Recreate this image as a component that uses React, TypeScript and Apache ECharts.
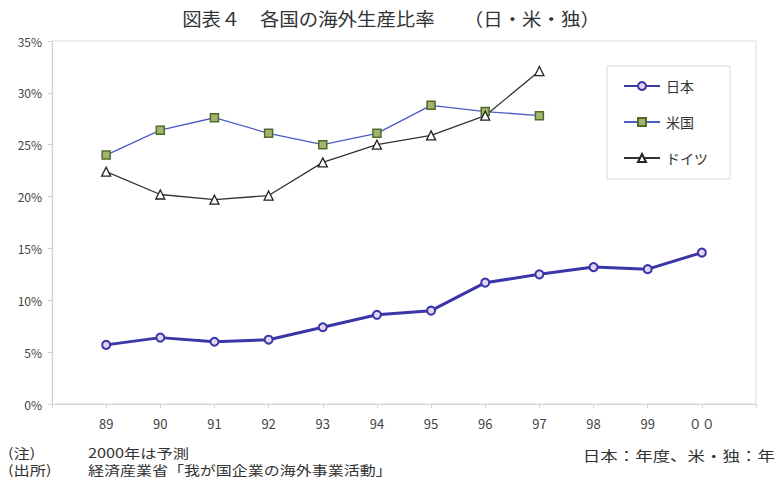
import React, { useEffect, useRef } from "react";
import * as echarts from "echarts";

const years = ["89", "90", "91", "92", "93", "94", "95", "96", "97", "98", "99", "００"];
const japan = [5.7, 6.4, 6.0, 6.2, 7.4, 8.6, 9.0, 11.7, 12.5, 13.2, 13.0, 14.6];
const usa = [24.0, 26.4, 27.6, 26.1, 25.0, 26.1, 28.8, 28.2, 27.8];
const germany = [22.4, 20.2, 19.7, 20.1, 23.3, 25.0, 25.9, 27.8, 32.1];
const yTicks = [0, 5, 10, 15, 20, 25, 30, 35];

const FONT = '"Noto Sans CJK JP", "Noto Sans", sans-serif';

// pad the axis with an empty slot on each side so points sit inside the frame
const axisData = ["", ...years, ""];
const pad = (arr: number[]) => {
  const out: (number | null)[] = [null, ...arr];
  while (out.length < axisData.length) out.push(null);
  return out;
};

// wide-set text, as in the printed figure
const wideText = (
  text: string,
  x: number,
  y: number,
  size: number,
  sx: number,
  align: "left" | "center" | "right" = "left"
) => ({
  type: "text",
  x,
  y,
  scaleX: sx,
  style: {
    text,
    font: `${size}px ${FONT}`,
    fill: "#333",
    align,
    verticalAlign: "middle",
  },
});

export default function App() {
  const ref = useRef<HTMLDivElement>(null);
  useEffect(() => {
    if (!ref.current) return;
    const chart = echarts.init(ref.current, undefined, { renderer: "svg" });
    chart.setOption({
      animation: false,
      backgroundColor: "#fff",
      textStyle: { fontFamily: FONT },
      grid: {
        left: 52,
        right: 20,
        top: 41,
        bottom: 76,
        show: true,
        borderColor: "#dedede",
        borderWidth: 1,
      },
      legend: {
        orient: "vertical",
        left: 607,
        top: 66,
        padding: [13, 22, 14, 16],
        itemGap: 22,
        itemWidth: 36,
        itemHeight: 10,
        backgroundColor: "#fff",
        borderColor: "#d8d8d8",
        borderWidth: 1,
        textStyle: { fontFamily: FONT, fontSize: 14, color: "#333", padding: [0, 0, 0, 1] },
        data: ["日本", "米国", "ドイツ"],
      },
      xAxis: {
        type: "category",
        data: axisData,
        boundaryGap: false,
        axisLine: { lineStyle: { color: "#d4d4d4" } },
        axisTick: { length: 4, lineStyle: { color: "#d4d4d4" } },
        axisLabel: { fontFamily: FONT, fontSize: 13, color: "#444", margin: 13, interval: 0 },
        splitLine: { show: false },
      },
      yAxis: {
        type: "value",
        min: yTicks[0],
        max: yTicks[yTicks.length - 1],
        interval: 5,
        axisLine: { show: true, lineStyle: { color: "#d4d4d4" } },
        axisTick: { show: true, length: 4, lineStyle: { color: "#d4d4d4" } },
        axisLabel: { formatter: "{value}%", fontFamily: FONT, fontSize: 12, color: "#444", margin: 10 },
        splitLine: { show: false },
      },
      series: [
        {
          name: "日本",
          type: "line",
          data: pad(japan),
          symbol: "circle",
          symbolSize: 8,
          lineStyle: { color: "#3a36a8", width: 3 },
          itemStyle: { color: "#e6d4f2", borderColor: "#3a36a8", borderWidth: 2 },
          z: 3,
        },
        {
          name: "米国",
          type: "line",
          data: pad(usa),
          symbol: "rect",
          symbolSize: 8,
          lineStyle: { color: "#4a5cc8", width: 1.3 },
          itemStyle: { color: "#a4b46e", borderColor: "#4f6b2a", borderWidth: 1.5 },
          z: 2,
        },
        {
          name: "ドイツ",
          type: "line",
          data: pad(germany),
          symbol: "triangle",
          symbolSize: 9,
          lineStyle: { color: "#333", width: 1.3 },
          itemStyle: { color: "#fff", borderColor: "#222", borderWidth: 1.3 },
          z: 2,
        },
      ],
      graphic: [
        wideText("図表４　各国の海外生産比率　　（日・米・独）", 391, 18, 18, 1.08, "center"),
        wideText("(注)", 8, 452, 13, 1.25),
        wideText("2000年は予測", 88, 452, 13, 1.25),
        wideText("(出所)", 8, 469, 13, 1.25),
        wideText("経済産業省「我が国企業の海外事業活動」", 88, 469, 13, 1.23),
        wideText("日本：年度、米・独：年", 775, 455, 14, 1.25, "right"),
      ],
    });
    return () => chart.dispose();
  }, []);
  return <div ref={ref} style={{ width: 776, height: 480, position: "absolute", left: 0, top: 0 }} />;
}
